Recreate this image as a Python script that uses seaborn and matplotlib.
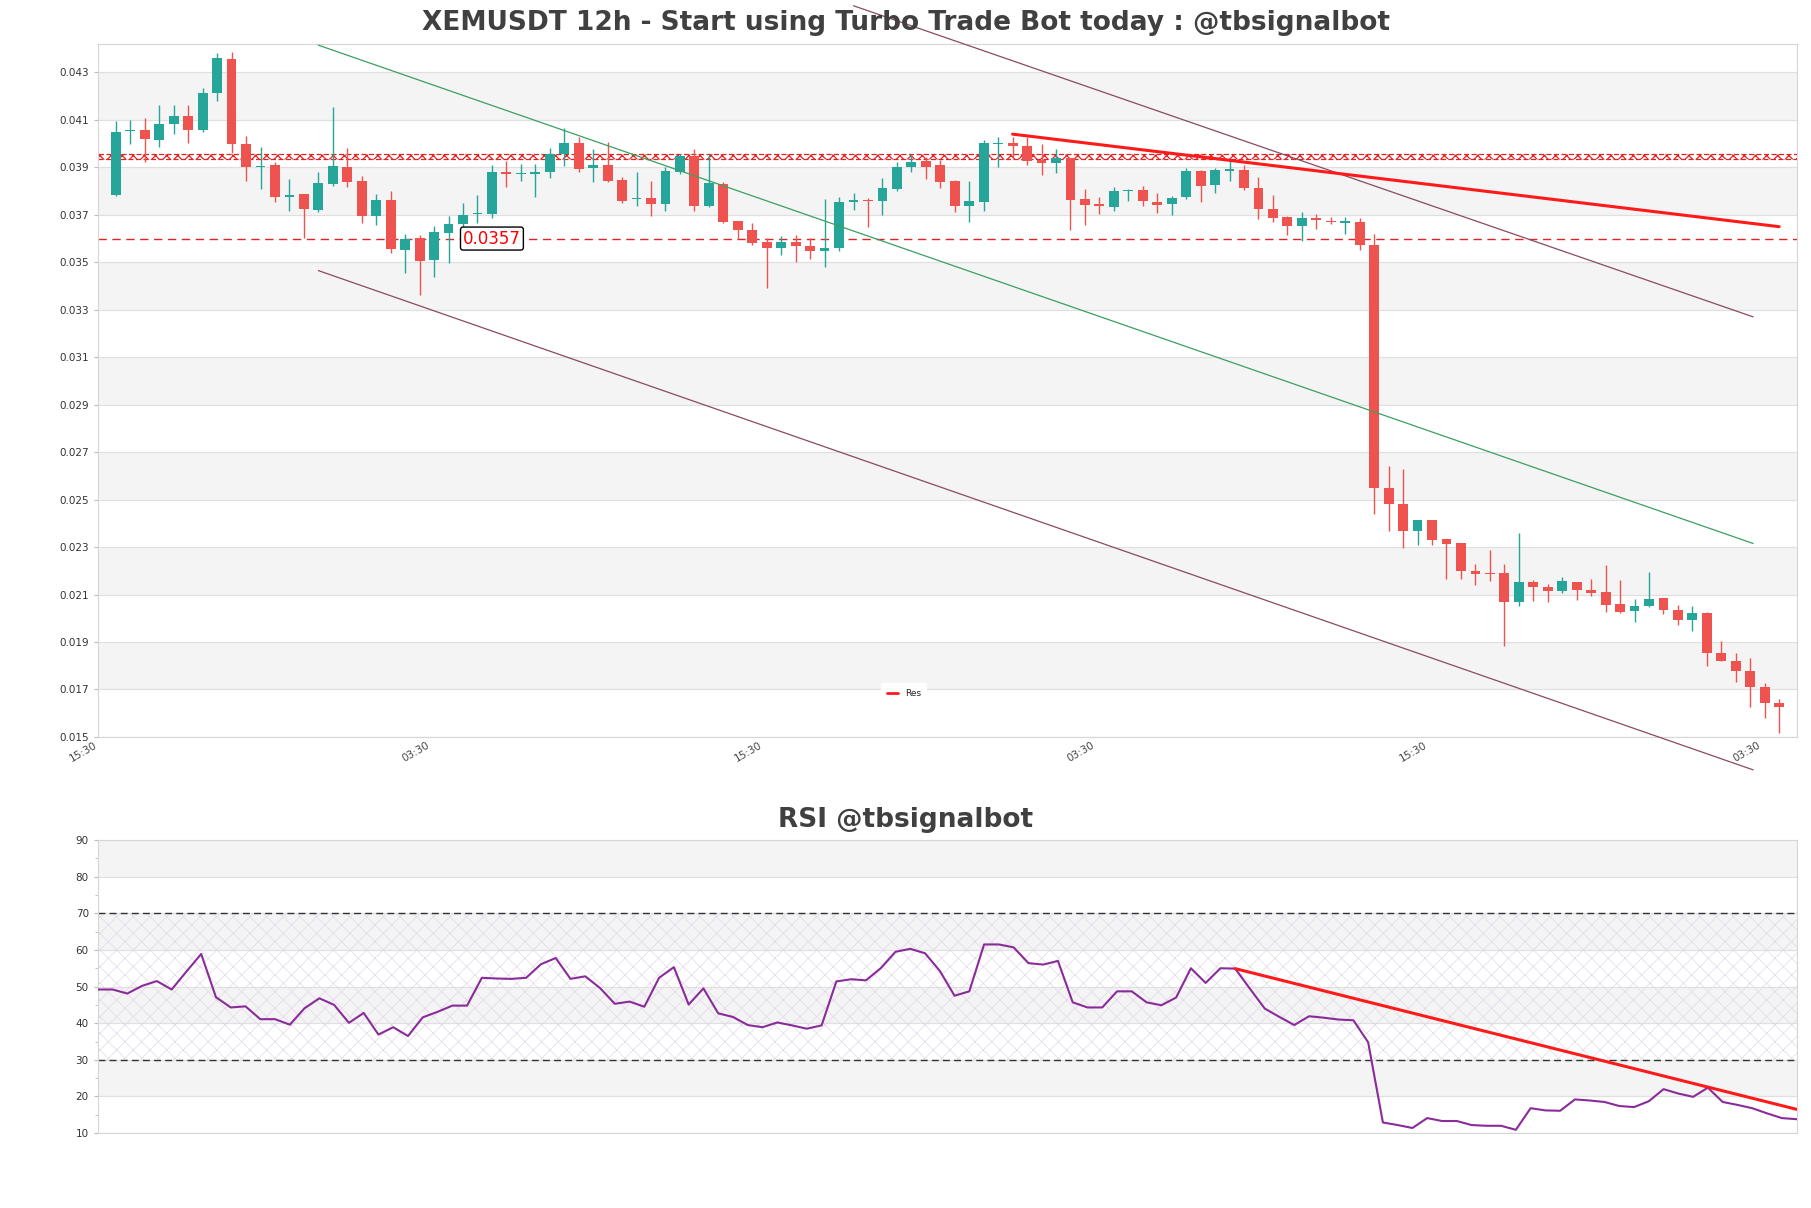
import numpy as np
import pandas as pd
import seaborn as sns
import matplotlib.pyplot as plt

# --- dados ---
opens = [0.03782, 0.04052, 0.04056, 0.04015, 0.04083, 0.04115, 0.04057, 0.04214, 0.04356, 0.03999,
         0.03900, 0.03912, 0.03777, 0.03786, 0.03721, 0.03828, 0.03900, 0.03844, 0.03693, 0.03763,
         0.03553, 0.03601, 0.03509, 0.03625, 0.03663, 0.03702, 0.03705, 0.03879, 0.03872, 0.03872,
         0.03879, 0.03956, 0.04002, 0.03897, 0.03911, 0.03848, 0.03767, 0.03773, 0.03745, 0.03882,
         0.03949, 0.03739, 0.03831, 0.03672, 0.03638, 0.03584, 0.03560, 0.03584, 0.03567, 0.03548,
         0.03560, 0.03756, 0.03764, 0.03757, 0.03809, 0.03903, 0.03925, 0.03908, 0.03843, 0.03737,
         0.03754, 0.03998, 0.04002, 0.03992, 0.03930, 0.03919, 0.03941, 0.03765, 0.03744, 0.03733,
         0.03801, 0.03806, 0.03755, 0.03744, 0.03774, 0.03886, 0.03827, 0.03886, 0.03889, 0.03813,
         0.03726, 0.03689, 0.03654, 0.03686, 0.03674, 0.03667, 0.03669, 0.03571, 0.02547, 0.02483,
         0.02366, 0.02416, 0.02333, 0.02316, 0.02200, 0.02191, 0.02190, 0.02069, 0.02152, 0.02130,
         0.02113, 0.02152, 0.02120, 0.02110, 0.02062, 0.02030, 0.02050, 0.02084, 0.02035, 0.01992,
         0.02024, 0.01854, 0.01821, 0.01779, 0.01711, 0.01643]
highs = [0.04094, 0.04101, 0.04107, 0.04162, 0.04164, 0.04162, 0.04236, 0.04382, 0.04385, 0.04033,
         0.03986, 0.03923, 0.03852, 0.03789, 0.03882, 0.04153, 0.03980, 0.03865, 0.03789, 0.03799,
         0.03619, 0.03615, 0.03653, 0.03695, 0.03751, 0.03784, 0.03910, 0.03927, 0.03914, 0.03914,
         0.03981, 0.04065, 0.04026, 0.03977, 0.04008, 0.03858, 0.03882, 0.03844, 0.03900, 0.03956,
         0.03977, 0.03956, 0.03837, 0.03672, 0.03666, 0.03603, 0.03609, 0.03616, 0.03603, 0.03767,
         0.03777, 0.03791, 0.03771, 0.03855, 0.03921, 0.03958, 0.03944, 0.03933, 0.03848, 0.03843,
         0.04016, 0.04030, 0.04030, 0.04027, 0.03997, 0.03979, 0.03941, 0.03809, 0.03776, 0.03816,
         0.03809, 0.03820, 0.03790, 0.03781, 0.03899, 0.03889, 0.03899, 0.03930, 0.03910, 0.03859,
         0.03784, 0.03696, 0.03714, 0.03703, 0.03692, 0.03692, 0.03688, 0.03620, 0.02640, 0.02627,
         0.02416, 0.02416, 0.02333, 0.02316, 0.02227, 0.02288, 0.02230, 0.02358, 0.02163, 0.02145,
         0.02173, 0.02152, 0.02166, 0.02223, 0.02163, 0.02083, 0.02196, 0.02087, 0.02057, 0.02053,
         0.02027, 0.01904, 0.01854, 0.01834, 0.01726, 0.01661]
lows = [0.03780, 0.03999, 0.03921, 0.03985, 0.04040, 0.04002, 0.04050, 0.04180, 0.03961, 0.03844,
        0.03808, 0.03752, 0.03718, 0.03601, 0.03714, 0.03820, 0.03818, 0.03667, 0.03657, 0.03540,
        0.03455, 0.03361, 0.03438, 0.03495, 0.03646, 0.03667, 0.03688, 0.03816, 0.03844, 0.03777,
        0.03855, 0.03906, 0.03879, 0.03837, 0.03837, 0.03749, 0.03736, 0.03697, 0.03715, 0.03872,
        0.03715, 0.03735, 0.03665, 0.03599, 0.03574, 0.03390, 0.03529, 0.03501, 0.03513, 0.03480,
        0.03548, 0.03721, 0.03648, 0.03700, 0.03799, 0.03882, 0.03850, 0.03812, 0.03712, 0.03671,
        0.03717, 0.03903, 0.03944, 0.03912, 0.03868, 0.03875, 0.03638, 0.03659, 0.03703, 0.03717,
        0.03758, 0.03737, 0.03707, 0.03699, 0.03765, 0.03754, 0.03790, 0.03843, 0.03803, 0.03682,
        0.03671, 0.03616, 0.03588, 0.03641, 0.03661, 0.03620, 0.03553, 0.02441, 0.02369, 0.02298,
        0.02310, 0.02309, 0.02167, 0.02167, 0.02140, 0.02158, 0.01881, 0.02050, 0.02072, 0.02069,
        0.02107, 0.02077, 0.02092, 0.02027, 0.02023, 0.01986, 0.02047, 0.02017, 0.01971, 0.01947,
        0.01798, 0.01819, 0.01730, 0.01628, 0.01580, 0.01518]
closes = [0.04051, 0.04056, 0.04019, 0.04081, 0.04115, 0.04057, 0.04212, 0.04361, 0.03998, 0.03900,
          0.03903, 0.03777, 0.03780, 0.03725, 0.03835, 0.03905, 0.03840, 0.03697, 0.03763, 0.03557,
          0.03598, 0.03506, 0.03628, 0.03662, 0.03700, 0.03705, 0.03881, 0.03874, 0.03873, 0.03882,
          0.03956, 0.04002, 0.03892, 0.03911, 0.03844, 0.03760, 0.03773, 0.03745, 0.03886, 0.03946,
          0.03739, 0.03836, 0.03669, 0.03637, 0.03581, 0.03560, 0.03584, 0.03569, 0.03548, 0.03562,
          0.03756, 0.03764, 0.03757, 0.03813, 0.03903, 0.03921, 0.03903, 0.03837, 0.03737, 0.03757,
          0.04002, 0.04003, 0.03990, 0.03928, 0.03919, 0.03941, 0.03762, 0.03741, 0.03739, 0.03802,
          0.03806, 0.03758, 0.03741, 0.03769, 0.03886, 0.03823, 0.03889, 0.03892, 0.03812, 0.03723,
          0.03686, 0.03654, 0.03685, 0.03677, 0.03668, 0.03670, 0.03574, 0.02547, 0.02483, 0.02369,
          0.02416, 0.02328, 0.02313, 0.02200, 0.02188, 0.02187, 0.02069, 0.02152, 0.02130, 0.02113,
          0.02155, 0.02120, 0.02107, 0.02057, 0.02027, 0.02050, 0.02083, 0.02035, 0.01992, 0.02023,
          0.01854, 0.01819, 0.01779, 0.01711, 0.01643, 0.01628]

rsi = [49.2, 49.2, 48.1, 50.2, 51.5, 49.2, 54.1, 58.9, 47.1, 44.3,
       44.6, 41.1, 41.1, 39.6, 44.1, 46.8, 45.0, 40.1, 42.8, 36.9,
       38.9, 36.5, 41.6, 43.1, 44.8, 44.8, 52.4, 52.2, 52.1, 52.4,
       56.1, 57.8, 52.1, 52.8, 49.6, 45.3, 45.9, 44.5, 52.4, 55.3,
       45.1, 49.5, 42.7, 41.7, 39.5, 38.9, 40.2, 39.4, 38.5, 39.4,
       51.4, 52.0, 51.7, 55.0, 59.5, 60.3, 59.1, 54.3, 47.5, 48.7,
       61.5, 61.5, 60.7, 56.4, 56.0, 57.0, 45.7, 44.3, 44.3, 48.7,
       48.7, 45.7, 44.9, 47.0, 55.0, 51.0, 55.0, 54.9, 49.4, 44.0,
       41.7, 39.5, 41.9, 41.5, 41.0, 40.8, 34.8, 12.9, 12.2, 11.4,
       14.1, 13.3, 13.3, 12.2, 12.0, 12.0, 10.9, 16.8, 16.2, 16.1,
       19.2, 18.9, 18.5, 17.4, 17.1, 18.7, 22.0, 20.8, 19.9, 22.4,
       18.5, 17.7, 16.8, 15.4, 14.1, 13.8]

tick_pos = [-1.2, 21.8, 44.8, 67.8, 90.8, 113.8]
tick_labels = ['15:30', '03:30', '15:30', '03:30', '15:30', '03:30']
price_ticks = [0.015, 0.017, 0.019, 0.021, 0.023, 0.025, 0.027, 0.029,
               0.031, 0.033, 0.035, 0.037, 0.039, 0.041, 0.043]

# linhas de tendencia / canal
chan_x = [14.0, 113.2]
chan_mid = [0.04415, 0.02315]
chan_low = [0.03465, 0.01361]
chan_up_x = [51.0, 113.2]
chan_up = [0.04581, 0.03270]
res_x = [62, 115]
res_y = [0.0404, 0.0365]
support_level = 0.0360
support_text = '0.0357'
zone_low, zone_high = 0.03937, 0.03958
rsi_res_x = [77, 115]
rsi_res_y = [54.9, 16.5]

df = pd.DataFrame({'open': opens, 'high': highs, 'low': lows, 'close': closes})
df['idx'] = np.arange(len(df))
df['up'] = df['close'] >= df['open']

sns.set_style('white')
plt.rcParams['font.family'] = ['DejaVu Sans']

fig = plt.figure(figsize=(18.11, 12.08), dpi=100)
ax = fig.add_axes([0.054, 0.39, 0.938, 0.5736])
ax2 = fig.add_axes([0.054, 0.062, 0.938, 0.2426])

GREEN = '#26a69a'
RED = '#ef5350'

# --- faixas e grade do painel de preco ---
for i, t in enumerate(price_ticks[:-1]):
    if i % 2 == 1:
        ax.axhspan(t, price_ticks[i + 1], color='#f4f4f4', zorder=0, lw=0)
for t in price_ticks:
    ax.axhline(t, color='#e0e0e0', lw=0.9, zorder=0.5)

# zona de resistencia hachurada
plt.rcParams['hatch.linewidth'] = 0.9
ax.axhspan(zone_low, zone_high, facecolor='none', edgecolor='#e02424', hatch='xxx',
           lw=0.9, ls=(0, (4, 2)), zorder=1)
ax.axhline(support_level, color='#e02424', lw=1.0, ls=(0, (6, 4)), zorder=1)

# --- velas ---
colors = np.where(df['up'], GREEN, RED)
ax.vlines(df['idx'], df['low'], df['high'], colors=colors, lw=1.0, zorder=2)
body = (df['close'] - df['open']).abs().clip(lower=0.00005)
bottom = df[['open', 'close']].min(axis=1)
ax.bar(df['idx'], body, bottom=bottom, width=0.68, color=colors, zorder=3, lw=0)

# canal e resistencia
ax.plot(chan_x, chan_mid, color='#3aa061', lw=0.9, clip_on=False, zorder=4)
ax.plot(chan_x, chan_low, color='#8a4a62', lw=0.9, clip_on=False, zorder=4)
ax.plot(chan_up_x, chan_up, color='#8a4a62', lw=0.9, clip_on=False, zorder=4)
ax.plot(res_x, res_y, color='#ff1a1a', lw=2.2, zorder=5, label='Res')

ax.text(24.0, support_level, support_text, color='red', fontsize=12, ha='left', va='center',
        zorder=6, bbox=dict(boxstyle='round,pad=0.15', fc='white', ec='black', lw=1.0))

ax.set_xlim(-1.25, 116.2)
ax.set_ylim(0.015, 0.0442)
ax.set_yticks(price_ticks)
ax.set_yticklabels([f'{t:.3f}' for t in price_ticks])
ax.set_xticks(tick_pos)
ax.set_xticklabels(tick_labels, rotation=30, ha='right')
ax.tick_params(axis='y', labelsize=7.5, labelcolor='#333333', length=3, color='#bbbbbb', left=True)
ax.tick_params(axis='x', labelsize=7.5, labelcolor='#444444', length=0, pad=2)
for s in ax.spines.values():
    s.set_color('#d6d6d6')
    s.set_linewidth(0.8)

leg = ax.legend(loc='lower center', bbox_to_anchor=(0.4745, 0.042), fontsize=6.5,
                frameon=True, handlelength=1.2, borderpad=0.6, framealpha=1.0)
leg.get_frame().set_edgecolor('white')
leg.get_lines()[0].set_linewidth(2)

# --- painel RSI ---
rsi_df = pd.DataFrame({'i': np.arange(len(rsi)), 'rsi': rsi})
for lo, hi in [(20, 30), (40, 50), (60, 70), (80, 90)]:
    ax2.axhspan(lo, hi, color='#f4f4f4', zorder=0, lw=0)
for v in range(10, 91, 10):
    ax2.axhline(v, color='#e0e0e0', lw=0.9, zorder=0.5)
plt.rcParams['hatch.linewidth'] = 0.5
ax2.fill_between([0, len(rsi) - 1], 30, 70, facecolor='none', edgecolor='#e2d8e8',
                 hatch='xx', lw=0, zorder=0.6)
ax2.axhline(70, color='#333333', lw=1.0, ls=(0, (5, 3)), zorder=1)
ax2.axhline(30, color='#333333', lw=1.0, ls=(0, (5, 3)), zorder=1)
sns.lineplot(data=rsi_df, x='i', y='rsi', ax=ax2, color='#8a2b9a', lw=1.5, zorder=3)
ax2.plot(rsi_res_x, rsi_res_y, color='#ff1a1a', lw=2.2, zorder=4)

ax2.set_xlim(0, len(rsi) - 1)
ax2.set_ylim(10, 90)
ax2.set_yticks(range(10, 91, 10))
ax2.set_yticks(range(15, 90, 10), minor=True)
ax2.set_xticks([])
ax2.set_xlabel('')
ax2.set_ylabel('')
ax2.tick_params(axis='y', which='major', labelsize=7.5, labelcolor='#333333', length=3,
                color='#bbbbbb', left=True)
ax2.tick_params(axis='y', which='minor', length=2, color='#bbbbbb', left=True)
for s in ax2.spines.values():
    s.set_color('#d6d6d6')
    s.set_linewidth(0.8)

fig.text(0.5, 0.981, 'XEMUSDT 12h - Start using Turbo Trade Bot today : @tbsignalbot',
         ha='center', va='center', fontsize=19, fontweight='bold', color='#404040')
fig.text(0.5, 0.321, 'RSI @tbsignalbot', ha='center', va='center', fontsize=19,
         fontweight='bold', color='#404040')

fig.savefig('out.png', dpi=100)
